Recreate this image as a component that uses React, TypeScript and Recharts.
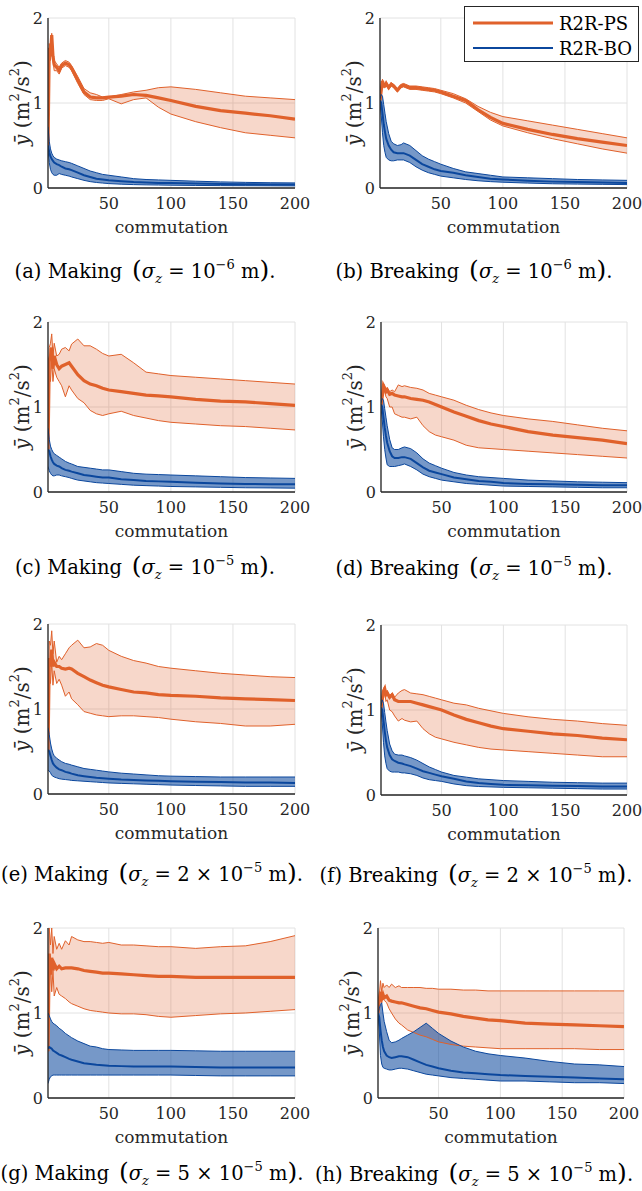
import React from 'react'
import { ComposedChart, Area, Line, XAxis, YAxis, CartesianGrid } from 'recharts'

// shared commutation grid (x axis)
const commutations = [1, 2, 3, 4, 5, 6, 8, 10, 12, 15, 18, 20, 25, 30, 35, 40, 45, 50, 60, 70, 80, 90, 100, 120, 140, 160, 180, 200]
const xTicks = [50, 100, 150, 200]
const yTicks = [0, 1, 2]
const seriesNames = ['R2R-PS', 'R2R-BO']

// (a) Making, sigma_z = 1e-6
const aPsMean = [0.5, 1.65, 1.55, 1.8, 1.55, 1.45, 1.42, 1.38, 1.44, 1.47, 1.45, 1.41, 1.27, 1.13, 1.07, 1.06, 1.06, 1.07, 1.08, 1.1, 1.09, 1.06, 1.03, 0.96, 0.91, 0.88, 0.85, 0.81]
const aPsHi = [0.5, 1.7, 1.6, 1.82, 1.6, 1.5, 1.46, 1.42, 1.47, 1.5, 1.48, 1.44, 1.31, 1.17, 1.12, 1.1, 1.07, 1.07, 1.1, 1.13, 1.15, 1.18, 1.19, 1.16, 1.12, 1.08, 1.06, 1.04]
const aPsLo = [0.5, 1.6, 1.5, 1.75, 1.5, 1.38, 1.38, 1.34, 1.41, 1.44, 1.42, 1.38, 1.23, 1.1, 1.04, 1.03, 1.03, 1.05, 0.99, 1.04, 1.06, 0.95, 0.87, 0.78, 0.71, 0.65, 0.62, 0.59]
const aBoMean = [0.5, 0.42, 0.37, 0.34, 0.32, 0.3, 0.28, 0.27, 0.25, 0.23, 0.22, 0.21, 0.18, 0.15, 0.13, 0.11, 0.1, 0.09, 0.08, 0.07, 0.065, 0.06, 0.058, 0.052, 0.048, 0.045, 0.042, 0.04]
const aBoHi = [0.72, 0.55, 0.46, 0.41, 0.38, 0.36, 0.34, 0.33, 0.32, 0.31, 0.3, 0.29, 0.26, 0.23, 0.2, 0.18, 0.16, 0.15, 0.13, 0.11, 0.1, 0.095, 0.09, 0.08, 0.072, 0.066, 0.062, 0.06]
const aBoLo = [0.45, 0.3, 0.22, 0.18, 0.16, 0.15, 0.15, 0.17, 0.16, 0.15, 0.14, 0.13, 0.11, 0.09, 0.075, 0.065, 0.058, 0.052, 0.045, 0.04, 0.037, 0.035, 0.033, 0.03, 0.028, 0.027, 0.026, 0.025]

// (b) Breaking, sigma_z = 1e-6
const bPsMean = [1.03, 1.15, 1.26, 1.2, 1.2, 1.23, 1.18, 1.22, 1.2, 1.15, 1.2, 1.21, 1.18, 1.18, 1.17, 1.16, 1.15, 1.13, 1.08, 1.03, 0.92, 0.83, 0.76, 0.69, 0.63, 0.58, 0.54, 0.5]
const bPsHi = [1.04, 1.17, 1.28, 1.22, 1.22, 1.25, 1.2, 1.24, 1.22, 1.17, 1.22, 1.23, 1.2, 1.2, 1.19, 1.18, 1.17, 1.15, 1.11, 1.05, 0.96, 0.89, 0.84, 0.79, 0.74, 0.69, 0.64, 0.59]
const bPsLo = [1.02, 1.13, 1.24, 1.18, 1.18, 1.21, 1.16, 1.2, 1.18, 1.13, 1.18, 1.19, 1.16, 1.16, 1.15, 1.14, 1.13, 1.11, 1.06, 1.0, 0.9, 0.8, 0.73, 0.65, 0.58, 0.52, 0.46, 0.41]
const bBoMean = [1.03, 1.0, 0.88, 0.75, 0.66, 0.58, 0.5, 0.45, 0.42, 0.41, 0.41, 0.41, 0.38, 0.33, 0.28, 0.25, 0.22, 0.2, 0.18, 0.15, 0.13, 0.11, 0.1, 0.085, 0.075, 0.07, 0.065, 0.06]
const bBoHi = [1.05, 1.1, 1.08, 0.98, 0.88, 0.78, 0.64, 0.55, 0.52, 0.5, 0.51, 0.53, 0.5, 0.44, 0.38, 0.34, 0.31, 0.28, 0.23, 0.19, 0.17, 0.15, 0.13, 0.12, 0.11, 0.1, 0.095, 0.09]
const bBoLo = [1.0, 0.85, 0.65, 0.5, 0.42, 0.36, 0.33, 0.32, 0.32, 0.33, 0.33, 0.33, 0.3, 0.25, 0.21, 0.18, 0.16, 0.14, 0.12, 0.1, 0.085, 0.075, 0.068, 0.058, 0.05, 0.046, 0.043, 0.04]

// (c) Making, sigma_z = 1e-5
const cPsMean = [0.5, 1.55, 1.6, 1.7, 1.45, 1.6, 1.5, 1.45, 1.48, 1.5, 1.52, 1.48, 1.38, 1.31, 1.27, 1.25, 1.22, 1.2, 1.18, 1.16, 1.14, 1.13, 1.12, 1.09, 1.07, 1.06, 1.04, 1.02]
const cPsHi = [0.5, 1.7, 1.75, 1.86, 1.6, 1.75, 1.6, 1.62, 1.68, 1.7, 1.66, 1.74, 1.8, 1.72, 1.72, 1.68, 1.63, 1.6, 1.62, 1.52, 1.41, 1.39, 1.37, 1.35, 1.33, 1.31, 1.29, 1.27]
const cPsLo = [0.5, 1.4, 1.3, 1.55, 1.3, 1.45, 1.35, 1.3, 1.25, 1.12, 1.25, 1.2, 1.1, 1.05, 0.96, 0.92, 0.9, 0.92, 0.95, 0.9, 0.87, 0.84, 0.82, 0.8, 0.78, 0.77, 0.75, 0.73]
const cBoMean = [0.5, 0.48, 0.42, 0.38, 0.35, 0.33, 0.31, 0.3, 0.28, 0.26, 0.25, 0.24, 0.22, 0.2, 0.19, 0.18, 0.17, 0.17, 0.15, 0.14, 0.13, 0.125, 0.12, 0.11, 0.1, 0.095, 0.09, 0.09]
const cBoHi = [0.75, 0.62, 0.54, 0.5, 0.47, 0.45, 0.43, 0.41, 0.39, 0.36, 0.34, 0.33, 0.3, 0.29, 0.28, 0.27, 0.26, 0.26, 0.24, 0.22, 0.21, 0.205, 0.2, 0.19, 0.18, 0.17, 0.165, 0.16]
const cBoLo = [0.3, 0.25, 0.22, 0.2, 0.19, 0.19, 0.2, 0.2, 0.19, 0.18, 0.17, 0.16, 0.14, 0.13, 0.12, 0.11, 0.105, 0.1, 0.09, 0.08, 0.075, 0.07, 0.065, 0.06, 0.055, 0.05, 0.048, 0.045]

// (d) Breaking, sigma_z = 1e-5
const dPsMean = [1.02, 1.12, 1.25, 1.22, 1.18, 1.2, 1.15, 1.16, 1.14, 1.13, 1.12, 1.12, 1.1, 1.09, 1.08, 1.06, 1.03, 1.0, 0.94, 0.89, 0.84, 0.8, 0.77, 0.71, 0.67, 0.64, 0.61, 0.57]
const dPsHi = [1.02, 1.14, 1.28, 1.25, 1.2, 1.23, 1.18, 1.2, 1.18, 1.26, 1.24, 1.25, 1.23, 1.22, 1.2, 1.16, 1.14, 1.12, 1.08, 1.02, 0.97, 0.93, 0.9, 0.86, 0.83, 0.79, 0.75, 0.72]
const dPsLo = [1.02, 1.1, 1.22, 1.18, 1.12, 1.1, 1.0, 1.0, 0.92, 0.9, 0.88, 0.88, 0.86, 0.88, 0.78, 0.71, 0.67, 0.65, 0.61, 0.55, 0.52, 0.51, 0.5, 0.48, 0.46, 0.44, 0.42, 0.4]
const dBoMean = [1.03, 1.0, 0.88, 0.76, 0.66, 0.58, 0.48, 0.42, 0.4, 0.4, 0.41, 0.41, 0.39, 0.34, 0.29, 0.25, 0.23, 0.21, 0.17, 0.15, 0.13, 0.12, 0.105, 0.095, 0.09, 0.085, 0.08, 0.08]
const dBoHi = [1.05, 1.1, 1.08, 0.98, 0.88, 0.78, 0.62, 0.52, 0.5, 0.5, 0.52, 0.53, 0.51, 0.46, 0.39, 0.34, 0.31, 0.28, 0.23, 0.2, 0.18, 0.17, 0.16, 0.14, 0.13, 0.12, 0.115, 0.11]
const dBoLo = [1.0, 0.85, 0.65, 0.5, 0.4, 0.32, 0.3, 0.3, 0.3, 0.31, 0.32, 0.33, 0.3, 0.26, 0.21, 0.18, 0.16, 0.14, 0.12, 0.1, 0.09, 0.08, 0.07, 0.065, 0.06, 0.055, 0.05, 0.05]

// (e) Making, sigma_z = 2e-5
const ePsMean = [0.5, 1.6, 1.5, 1.7, 1.5, 1.55, 1.5, 1.5, 1.48, 1.47, 1.48, 1.47, 1.42, 1.38, 1.34, 1.31, 1.28, 1.26, 1.23, 1.2, 1.19, 1.17, 1.16, 1.15, 1.13, 1.12, 1.11, 1.1]
const ePsHi = [0.5, 1.8, 1.75, 1.92, 1.65, 1.8, 1.55, 1.62, 1.58, 1.65, 1.72, 1.75, 1.81, 1.72, 1.73, 1.77, 1.75, 1.69, 1.62, 1.57, 1.54, 1.5, 1.48, 1.45, 1.42, 1.4, 1.38, 1.37]
const ePsLo = [0.5, 1.4, 1.3, 1.55, 1.28, 1.45, 1.3, 1.35, 1.28, 1.15, 1.2, 1.12, 1.05, 0.97, 0.95, 0.93, 0.92, 0.91, 0.92, 0.92, 0.91, 0.9, 0.88, 0.85, 0.83, 0.8, 0.8, 0.82]
const eBoMean = [0.52, 0.5, 0.45, 0.4, 0.36, 0.34, 0.31, 0.29, 0.28, 0.26, 0.25, 0.24, 0.22, 0.21, 0.2, 0.19, 0.185, 0.18, 0.17, 0.165, 0.16, 0.155, 0.15, 0.145, 0.14, 0.135, 0.135, 0.13]
const eBoHi = [0.78, 0.7, 0.6, 0.53, 0.48, 0.45, 0.42, 0.4, 0.38, 0.36, 0.35, 0.34, 0.32, 0.3, 0.29, 0.28, 0.27, 0.26, 0.245, 0.235, 0.225, 0.215, 0.21, 0.205, 0.2, 0.2, 0.2, 0.2]
const eBoLo = [0.28, 0.27, 0.25, 0.22, 0.21, 0.2, 0.19, 0.18, 0.175, 0.17, 0.165, 0.16, 0.155, 0.15, 0.145, 0.14, 0.135, 0.13, 0.125, 0.12, 0.115, 0.11, 0.105, 0.1, 0.095, 0.09, 0.09, 0.09]

// (f) Breaking, sigma_z = 2e-5
const fPsMean = [1.02, 1.12, 1.22, 1.25, 1.18, 1.2, 1.15, 1.18, 1.12, 1.1, 1.1, 1.1, 1.1, 1.08, 1.06, 1.04, 1.02, 1.0, 0.94, 0.89, 0.85, 0.81, 0.78, 0.75, 0.72, 0.7, 0.67, 0.65]
const fPsHi = [1.02, 1.15, 1.25, 1.28, 1.2, 1.23, 1.17, 1.2, 1.15, 1.2, 1.23, 1.24, 1.2, 1.19, 1.18, 1.16, 1.14, 1.12, 1.08, 1.06, 1.02, 0.99, 0.96, 0.92, 0.89, 0.87, 0.84, 0.82]
const fPsLo = [1.02, 1.1, 1.18, 1.2, 1.1, 1.12, 1.0, 0.98, 0.93, 0.87, 0.9, 0.88, 0.86, 0.87, 0.78, 0.72, 0.68, 0.66, 0.62, 0.59, 0.56, 0.54, 0.53, 0.51, 0.49, 0.47, 0.45, 0.45]
const fBoMean = [1.03, 1.0, 0.88, 0.75, 0.64, 0.56, 0.47, 0.42, 0.4, 0.38, 0.37, 0.36, 0.34, 0.31, 0.28, 0.26, 0.24, 0.22, 0.19, 0.16, 0.14, 0.13, 0.12, 0.115, 0.11, 0.105, 0.1, 0.1]
const fBoHi = [1.05, 1.12, 1.08, 0.97, 0.86, 0.76, 0.6, 0.52, 0.48, 0.47, 0.47, 0.46, 0.44, 0.41, 0.37, 0.33, 0.3, 0.27, 0.23, 0.21, 0.19, 0.18, 0.17, 0.16, 0.15, 0.145, 0.14, 0.14]
const fBoLo = [1.0, 0.85, 0.62, 0.46, 0.37, 0.31, 0.28, 0.27, 0.27, 0.27, 0.26, 0.26, 0.25, 0.23, 0.2, 0.18, 0.17, 0.16, 0.13, 0.11, 0.1, 0.095, 0.09, 0.085, 0.08, 0.075, 0.07, 0.07]

// (g) Making, sigma_z = 5e-5
const gPsMean = [0.55, 1.7, 1.45, 1.65, 1.5, 1.58, 1.52, 1.55, 1.52, 1.53, 1.53, 1.53, 1.52, 1.5, 1.49, 1.48, 1.47, 1.47, 1.46, 1.45, 1.44, 1.43, 1.43, 1.42, 1.42, 1.42, 1.42, 1.42]
const gPsHi = [0.55, 2.0, 1.8, 2.0, 1.7, 1.9, 1.75, 1.82, 1.75, 1.85, 1.8, 1.9, 1.86, 1.84, 1.84, 1.83, 1.82, 1.83, 1.8, 1.8, 1.79, 1.78, 1.78, 1.76, 1.78, 1.79, 1.84, 1.91]
const gPsLo = [0.55, 1.2, 1.6, 1.25, 1.5, 1.2, 1.3, 1.22, 1.2, 1.17, 1.13, 1.11, 1.08, 1.05, 1.03, 1.02, 1.01, 1.0, 0.99, 0.99, 0.98, 0.96, 0.95, 0.97, 0.99, 1.0, 1.02, 1.04]
const gBoMean = [0.58, 0.6, 0.59, 0.58, 0.56, 0.55, 0.53, 0.51, 0.5, 0.48, 0.46, 0.45, 0.43, 0.41, 0.4, 0.39, 0.385, 0.38, 0.375, 0.37, 0.37, 0.37, 0.37, 0.365, 0.36, 0.36, 0.36, 0.36]
const gBoHi = [1.0, 0.97, 0.93, 0.9, 0.88, 0.87, 0.85, 0.82, 0.8, 0.76, 0.73, 0.71, 0.67, 0.64, 0.61, 0.6, 0.58, 0.57, 0.565, 0.56, 0.56, 0.56, 0.56, 0.555, 0.55, 0.55, 0.55, 0.55]
const gBoLo = [0.17, 0.22, 0.25, 0.26, 0.27, 0.27, 0.27, 0.27, 0.27, 0.27, 0.27, 0.27, 0.27, 0.27, 0.27, 0.27, 0.27, 0.27, 0.27, 0.27, 0.27, 0.27, 0.27, 0.265, 0.26, 0.26, 0.26, 0.26]

// (h) Breaking, sigma_z = 5e-5
const hPsMean = [1.0, 1.15, 1.25, 1.18, 1.22, 1.18, 1.2, 1.15, 1.14, 1.13, 1.12, 1.12, 1.1, 1.08, 1.06, 1.05, 1.03, 1.01, 0.99, 0.96, 0.94, 0.92, 0.91, 0.88, 0.87, 0.86, 0.85, 0.84]
const hPsHi = [1.0, 1.2, 1.38, 1.25, 1.35, 1.3, 1.33, 1.3, 1.34, 1.3, 1.32, 1.3, 1.3, 1.3, 1.3, 1.29, 1.29, 1.28, 1.28, 1.27, 1.27, 1.26, 1.26, 1.26, 1.26, 1.26, 1.26, 1.26]
const hPsLo = [1.0, 1.1, 1.2, 1.12, 1.18, 1.15, 1.12, 1.05, 1.0, 0.93, 0.88, 0.86, 0.8, 0.77, 0.74, 0.72, 0.69, 0.66, 0.63, 0.61, 0.6, 0.59, 0.58, 0.58, 0.58, 0.58, 0.57, 0.57]
const hBoMean = [1.0, 0.95, 0.8, 0.68, 0.6, 0.55, 0.5, 0.48, 0.47, 0.48, 0.49, 0.49, 0.48, 0.45, 0.42, 0.39, 0.37, 0.35, 0.32, 0.3, 0.29, 0.28, 0.27, 0.26, 0.25, 0.24, 0.23, 0.22]
const hBoHi = [1.0, 1.05, 1.1, 1.12, 1.0, 0.9, 0.78, 0.68, 0.65, 0.66, 0.68, 0.7, 0.74, 0.78, 0.83, 0.88, 0.82, 0.76, 0.67, 0.6, 0.55, 0.52, 0.5, 0.47, 0.43, 0.4, 0.39, 0.37]
const hBoLo = [1.0, 0.8, 0.5, 0.4, 0.36, 0.35, 0.34, 0.33, 0.33, 0.34, 0.35, 0.35, 0.34, 0.32, 0.3, 0.28, 0.27, 0.26, 0.24, 0.23, 0.22, 0.21, 0.2, 0.2, 0.19, 0.18, 0.18, 0.17]

const captionIds = ['(a)', '(b)', '(c)', '(d)', '(e)', '(f)', '(g)', '(h)']
const captionKinds = ['Making', 'Breaking', 'Making', 'Breaking', 'Making', 'Breaking', 'Making', 'Breaking']
const captionFactors = ['', '', '', '', '2 × ', '2 × ', '5 × ', '5 × ']
const captionExps = ['−6', '−6', '−5', '−5', '−5', '−5', '−5', '−5']

const ORANGE = '#E0612B'
const BLUE = '#0B479D'
const AXIS = '#262626'
const GRID = '#E2E2E2'
const FONT = "'DejaVu Serif', serif"

const PLOT_H = 170
const TOP_PAD = 12
const RIGHT_PAD = 20
const XAXIS_H = 48

type PanelDef = {
  psMean: number[]; psHi: number[]; psLo: number[]
  boMean: number[]; boHi: number[]; boLo: number[]
  col: number; plotLeft: number; plotRight: number; plotTop: number
}

const panels: PanelDef[] = [
  { psMean: aPsMean, psHi: aPsHi, psLo: aPsLo, boMean: aBoMean, boHi: aBoHi, boLo: aBoLo, col: 0, plotLeft: 48, plotRight: 295, plotTop: 18 },
  { psMean: bPsMean, psHi: bPsHi, psLo: bPsLo, boMean: bBoMean, boHi: bBoHi, boLo: bBoLo, col: 1, plotLeft: 380, plotRight: 627, plotTop: 18 },
  { psMean: cPsMean, psHi: cPsHi, psLo: cPsLo, boMean: cBoMean, boHi: cBoHi, boLo: cBoLo, col: 0, plotLeft: 48, plotRight: 295, plotTop: 322 },
  { psMean: dPsMean, psHi: dPsHi, psLo: dPsLo, boMean: dBoMean, boHi: dBoHi, boLo: dBoLo, col: 1, plotLeft: 381, plotRight: 627, plotTop: 322 },
  { psMean: ePsMean, psHi: ePsHi, psLo: ePsLo, boMean: eBoMean, boHi: eBoHi, boLo: eBoLo, col: 0, plotLeft: 48, plotRight: 295, plotTop: 624 },
  { psMean: fPsMean, psHi: fPsHi, psLo: fPsLo, boMean: fBoMean, boHi: fBoHi, boLo: fBoLo, col: 1, plotLeft: 381, plotRight: 627, plotTop: 625 },
  { psMean: gPsMean, psHi: gPsHi, psLo: gPsLo, boMean: gBoMean, boHi: gBoHi, boLo: gBoLo, col: 0, plotLeft: 48, plotRight: 295, plotTop: 928 },
  { psMean: hPsMean, psHi: hPsHi, psLo: hPsLo, boMean: hBoMean, boHi: hBoHi, boLo: hBoLo, col: 1, plotLeft: 378, plotRight: 624, plotTop: 928 },
]

const captionCenters = [
  { x: 145, y: 270 }, { x: 474, y: 270 },
  { x: 145, y: 566 }, { x: 474, y: 567 },
  { x: 152, y: 873 }, { x: 476, y: 874 },
  { x: 152, y: 1172 }, { x: 474, y: 1173 },
]

function buildRows(p: PanelDef) {
  return commutations.map((c, i) => ({
    c,
    psMean: p.psMean[i],
    psHi: p.psHi[i],
    psLo: p.psLo[i],
    psBand: [p.psLo[i], p.psHi[i]],
    boMean: p.boMean[i],
    boHi: p.boHi[i],
    boLo: p.boLo[i],
    boBand: [p.boLo[i], p.boHi[i]],
  }))
}

function xTitle(props: any) {
  const vb = props.viewBox
  return (
    <text x={vb.x + vb.width / 2} y={vb.y + 39} textAnchor="middle" dominantBaseline="central"
      fontFamily={FONT} fontSize={17} fill={AXIS}>commutation</text>
  )
}

function yTitle(props: any) {
  const vb = props.viewBox
  const cx = vb.x + vb.width - 26
  const cy = vb.y + vb.height / 2
  return (
    <text x={cx} y={cy} transform={`rotate(-90 ${cx} ${cy})`} textAnchor="middle" dominantBaseline="central"
      fontFamily={FONT} fontSize={20} fill={AXIS}>
      <tspan fontStyle="italic">ȳ</tspan>
      <tspan>{'\u00A0(m'}</tspan>
      <tspan fontSize={13} dy={-8}>2</tspan>
      <tspan dy={8}>/s</tspan>
      <tspan fontSize={13} dy={-8}>2</tspan>
      <tspan dy={8}>)</tspan>
    </text>
  )
}

function Panel({ def }: { def: PanelDef }) {
  const data = buildRows(def)
  const chartLeft = def.col === 0 ? 0 : 328
  const width = def.plotRight + RIGHT_PAD - chartLeft
  const tickStyle = { fontFamily: FONT, fontSize: 16, fill: AXIS }
  return (
    <div style={{ position: 'absolute', left: chartLeft, top: def.plotTop - TOP_PAD }}>
      <ComposedChart width={width} height={TOP_PAD + PLOT_H + XAXIS_H} data={data}
        margin={{ top: TOP_PAD, right: RIGHT_PAD, left: 0, bottom: 0 }}>
        <CartesianGrid stroke={GRID} strokeWidth={1} />
        <XAxis type="number" dataKey="c" domain={[1, 200]} ticks={xTicks} height={XAXIS_H}
          allowDataOverflow tickLine={false} tickSize={0} tickMargin={10} tick={tickStyle} interval={0}
          axisLine={{ stroke: AXIS, strokeWidth: 1.3 }} label={{ content: xTitle }} />
        <YAxis type="number" domain={[0, 2]} ticks={yTicks} width={def.plotLeft - chartLeft}
          allowDataOverflow tickLine={false} tickSize={0} tickMargin={5} tick={tickStyle} interval={0}
          axisLine={{ stroke: AXIS, strokeWidth: 1.3 }} label={{ content: yTitle }} />
        <Area type="linear" dataKey="psBand" fill={ORANGE} fillOpacity={0.25} stroke="none"
          isAnimationActive={false} activeDot={false} />
        <Line type="linear" dataKey="psLo" stroke={ORANGE} strokeWidth={1} dot={false} activeDot={false} isAnimationActive={false} />
        <Line type="linear" dataKey="psHi" stroke={ORANGE} strokeWidth={1} dot={false} activeDot={false} isAnimationActive={false} />
        <Line type="linear" dataKey="psMean" name={seriesNames[0]} stroke={ORANGE} strokeWidth={3.2} dot={false} activeDot={false} isAnimationActive={false} />
        <Area type="linear" dataKey="boBand" fill={BLUE} fillOpacity={0.56} stroke="none"
          isAnimationActive={false} activeDot={false} />
        <Line type="linear" dataKey="boLo" stroke={BLUE} strokeWidth={1} dot={false} activeDot={false} isAnimationActive={false} />
        <Line type="linear" dataKey="boHi" stroke={BLUE} strokeWidth={1} dot={false} activeDot={false} isAnimationActive={false} />
        <Line type="linear" dataKey="boMean" name={seriesNames[1]} stroke={BLUE} strokeWidth={2} dot={false} activeDot={false} isAnimationActive={false} />
      </ComposedChart>
    </div>
  )
}

function Caption({ i }: { i: number }) {
  const c = captionCenters[i]
  return (
    <div style={{
      position: 'absolute', left: c.x - 180, top: c.y - 14, width: 360, height: 28,
      textAlign: 'center', whiteSpace: 'nowrap', fontFamily: FONT, fontSize: 19.5, lineHeight: '28px', color: '#000',
    }}>
      {captionIds[i]} {captionKinds[i]}{'\u2002'}
      <span style={{ fontSize: 25 }}>(</span>
      <i>σ</i><span style={{ fontSize: 13, fontStyle: 'italic', position: 'relative', top: 5 }}>z</span>
      {' = '}{captionFactors[i]}10
      <span style={{ fontSize: 13, position: 'relative', top: -9 }}>{captionExps[i]}</span>
      {' m'}<span style={{ fontSize: 25 }}>)</span>.
    </div>
  )
}

function LegendBox() {
  return (
    <div style={{
      position: 'absolute', left: 464, top: 6, width: 173, height: 54,
      border: '1px solid #262626', background: '#fff',
    }}>
      <svg width={173} height={54} style={{ position: 'absolute', left: 0, top: 0 }}>
        <line x1={8} x2={88} y1={16} y2={16} stroke={ORANGE} strokeWidth={3} />
        <line x1={8} x2={88} y1={41} y2={41} stroke={BLUE} strokeWidth={2} />
        <text x={94} y={16} dominantBaseline="central" fontFamily={FONT} fontSize={18} fill="#000">{seriesNames[0]}</text>
        <text x={94} y={41} dominantBaseline="central" fontFamily={FONT} fontSize={18} fill="#000">{seriesNames[1]}</text>
      </svg>
    </div>
  )
}

export default function App() {
  return (
    <div style={{ position: 'absolute', left: 0, top: 0, width: 642, height: 1191, background: '#fff', overflow: 'hidden' }}>
      {panels.map((p, i) => <Panel key={i} def={p} />)}
      {panels.map((_, i) => <Caption key={i} i={i} />)}
      <LegendBox />
    </div>
  )
}
